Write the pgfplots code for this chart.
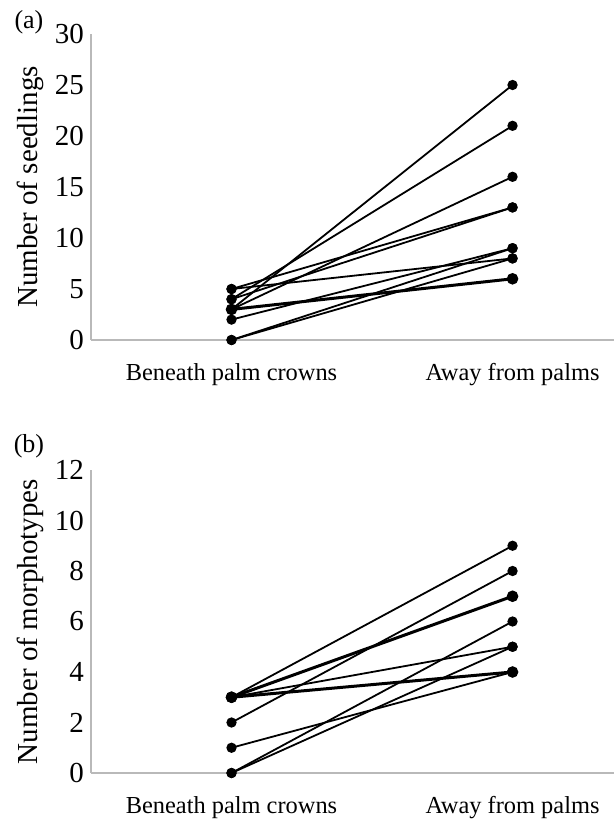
\documentclass[border=0pt]{standalone}
\usepackage{pgfplots}
\pgfplotsset{compat=1.18}
\usepackage{fontspec}
\setmainfont{Liberation Serif}
\begin{document}
\begin{tikzpicture}[x=1pt,y=1pt]
\path[use as bounding box] (-45.5pt,170pt) rectangle (261.5pt,-240.5pt);
\pgfplotsset{
  pair/.style={black, line width=0.9pt, mark=*, mark size=2.1pt, mark options={solid,fill=black}},
  dbl/.style={pair, line width=1.5pt},
  myax/.style={
    width=261.5pt, scale only axis,
    axis lines=left,
    axis line style={draw=gray!55, line width=0.7pt, -},
    xmin=0.5, xmax=2.361, ymin=0,
    xtick={1,2}, xticklabels={Beneath palm crowns, Away from palms},
    major tick length=0pt,
    /pgf/number format/assume math mode=true,
    yticklabel style={font=\fontsize{14.5}{15}\selectfont},
    xticklabel style={font=\fontsize{12.2}{13}\selectfont, yshift=-8pt},
    ylabel style={font=\fontsize{14.5}{15}\selectfont, at={(axis description cs:-0.1166,0.5)}, anchor=center, rotate=0},
    clip=false,
  }
}
\begin{axis}[myax, at={(0pt,0pt)}, anchor=south west, height=153pt, ymax=30, ytick={0,5,...,30},
  ylabel={Number of seedlings}]
\addplot[pair] coordinates {(1,3) (2,25)};
\addplot[pair] coordinates {(1,4) (2,21)};
\addplot[pair] coordinates {(1,3) (2,16)};
\addplot[pair] coordinates {(1,5) (2,13)};
\addplot[pair] coordinates {(1,4) (2,13)};
\addplot[pair] coordinates {(1,2) (2,9)};
\addplot[pair] coordinates {(1,5) (2,8)};
\addplot[pair] coordinates {(1,0) (2,9)};
\addplot[pair] coordinates {(1,0) (2,8)};
\addplot[dbl] coordinates {(1,3) (2,6)};
\node[font=\fontsize{13}{13}\selectfont] at (axis description cs:-0.1186,1.039) {(a)};
\end{axis}
\begin{axis}[myax, at={(0pt,-216.5pt)}, anchor=south west, height=151.5pt, ymax=12, ytick={0,2,...,12},
  ylabel={Number of morphotypes}]
\addplot[pair] coordinates {(1,3) (2,9)};
\addplot[dbl] coordinates {(1,3) (2,7)};
\addplot[pair] coordinates {(1,2) (2,8)};
\addplot[pair] coordinates {(1,3) (2,5)};
\addplot[dbl] coordinates {(1,3) (2,4)};
\addplot[pair] coordinates {(1,0) (2,6)};
\addplot[pair] coordinates {(1,0) (2,5)};
\addplot[pair] coordinates {(1,1) (2,4)};
\node[font=\fontsize{13}{13}\selectfont] at (axis description cs:-0.1186,1.079) {(b)};
\end{axis}
\end{tikzpicture}
\end{document}
